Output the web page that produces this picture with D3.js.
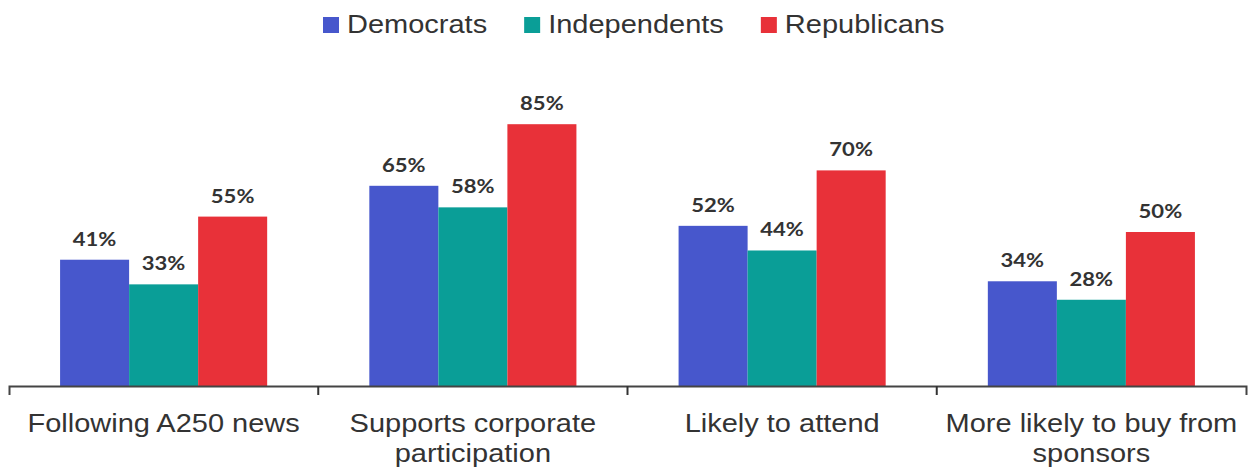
<!DOCTYPE html>
<html>
<head>
<meta charset="utf-8">
<script src="https://cdn.jsdelivr.net/npm/d3@7"></script>
<style>
  html, body { margin: 0; padding: 0; background: #fff; }
  svg { display: block; }
</style>
</head>
<body>
<svg id="chart" width="1252" height="471"></svg>
<script>
const categories = [
  ["Following A250 news"],
  ["Supports corporate", "participation"],
  ["Likely to attend"],
  ["More likely to buy from", "sponsors"]
];
const seriesNames = ["Democrats", "Independents", "Republicans"];
const democrats = [41, 65, 52, 34];
const independents = [33, 58, 44, 28];
const republicans = [55, 85, 70, 50];
const colors = ["#4757CC", "#0A9E97", "#E83139"];

const seriesValues = [democrats, independents, republicans];
const catKeys = categories.map(c => c.join(" "));
const data = catKeys.map((k, i) => ({
  key: k,
  lines: categories[i],
  values: seriesNames.map((s, j) => ({ series: s, value: seriesValues[j][i], color: colors[j] }))
}));

const svg = d3.select("#chart");
const SX = 1.16;
const textColor = "#333333";

const x0 = d3.scaleBand().domain(catKeys).range([9, 1246]).paddingInner(0).paddingOuter(0);
const x1 = d3.scaleBand().domain(seriesNames).range([0, x0.bandwidth()]).paddingInner(0).paddingOuter(0.74);
const y = d3.scaleLinear().domain([0, 100]).range([386, 78]);

// Bars
const groups = svg.append("g").selectAll("g").data(data).join("g")
  .attr("transform", d => `translate(${x0(d.key)},0)`);

groups.selectAll("rect").data(d => d.values).join("rect")
  .attr("x", d => x1(d.series))
  .attr("y", d => y(d.value))
  .attr("width", x1.bandwidth())
  .attr("height", d => y(0) - y(d.value))
  .attr("fill", d => d.color);

groups.selectAll("text.val").data(d => d.values).join("text")
  .attr("class", "val")
  .attr("transform", d => `translate(${x1(d.series) + x1.bandwidth() / 2},${y(d.value) - 14}) scale(${SX},1)`)
  .attr("text-anchor", "middle")
  .attr("font-family", "Lato, 'Open Sans', sans-serif")
  .attr("font-weight", 700)
  .attr("font-size", 19)
  .attr("fill", textColor)
  .text(d => d.value + "%");

// Axis
const axis = d3.axisBottom(x0).tickSizeInner(0).tickSizeOuter(9).tickFormat("");
const axG = svg.append("g").attr("transform", `translate(0,${y(0)})`).call(axis);
axG.select(".domain").attr("stroke", "#444").attr("stroke-width", 2);
axG.selectAll(".tick").remove();
axG.selectAll("line.sep").data(catKeys.slice(1)).join("line")
  .attr("class", "sep")
  .attr("x1", d => x0(d)).attr("x2", d => x0(d))
  .attr("y1", 0).attr("y2", 9)
  .attr("stroke", "#333").attr("stroke-width", 2);

// Category labels
const catLabels = svg.append("g").selectAll("g").data(data).join("g");
catLabels.selectAll("text").data(d => d.lines.map((l, i) => ({ l, i, cx: x0(d.key) + x0.bandwidth() / 2 }))).join("text")
  .attr("transform", d => `translate(${d.cx},${432 + d.i * 30}) scale(${SX},1)`)
  .attr("text-anchor", "middle")
  .attr("font-family", "'Liberation Sans', Arial, sans-serif")
  .attr("font-size", 25)
  .attr("fill", textColor)
  .text(d => d.l);

// Legend
const legend = svg.append("g");
let lx = 323;
seriesNames.forEach((s, i) => {
  legend.append("rect").attr("x", lx).attr("y", 17).attr("width", 16).attr("height", 16).attr("fill", colors[i]);
  const t = legend.append("text")
    .attr("transform", `translate(${lx + 24},33) scale(${SX},1)`)
    .attr("font-family", "'Liberation Sans', Arial, sans-serif")
    .attr("font-size", 25)
    .attr("fill", textColor)
    .text(s);
  const w = t.node().getComputedTextLength() * SX;
  lx = lx + 24 + w + 37;
});
</script>
</body>
</html>
